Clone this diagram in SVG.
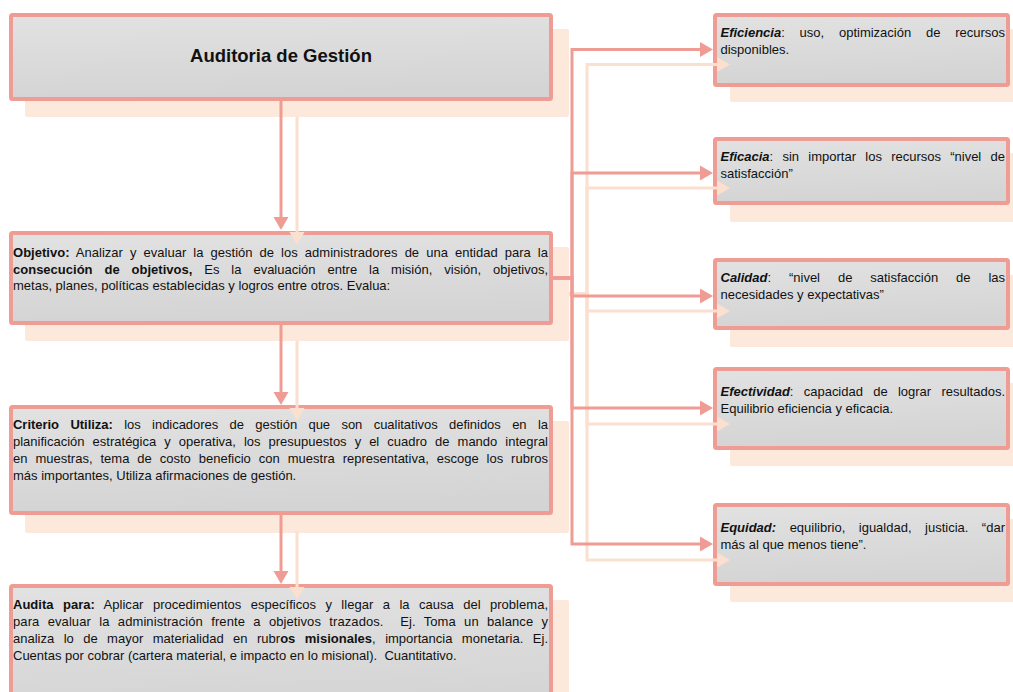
<svg xmlns="http://www.w3.org/2000/svg" width="1013" height="692" viewBox="0 0 1013 692">
<defs>
<linearGradient id="g" x1="0" y1="0" x2="0.15" y2="1">
<stop offset="0" stop-color="#e2e2e2"/>
<stop offset="1" stop-color="#d4d4d4"/>
</linearGradient>
<marker id="ah" markerUnits="userSpaceOnUse" markerWidth="14" markerHeight="16" refX="0" refY="8" orient="auto" viewBox="0 0 14 16"><path d="M0,0.5 L13,8 L0,15.5 z" fill="#ef9c95"/></marker>
<marker id="ahl" markerUnits="userSpaceOnUse" markerWidth="14" markerHeight="16" refX="0" refY="8" orient="auto" viewBox="0 0 14 16"><path d="M0,0.5 L13,8 L0,15.5 z" fill="#fbdfcf"/></marker>
<style>
.box{fill:url(#g);stroke:#ef9c95;stroke-width:4}
.sh{fill:#fde8dc}
.t{font-family:"Liberation Sans",Arial,Helvetica,sans-serif;font-size:13px;fill:#111;white-space:pre}
.title{font-family:"Liberation Sans",Arial,Helvetica,sans-serif;font-size:18.5px;font-weight:bold;fill:#111}
.b{font-weight:bold}
.bi{font-weight:bold;font-style:italic}
.c{fill:none;stroke:#ef9c95;stroke-width:3}
.cl{fill:none;stroke:#fbdfcf;stroke-width:3}
</style>
</defs>
<rect width="1013" height="692" fill="#ffffff"/>

<g id="node-auditoria">
<rect class="sh" x="25" y="29" width="544" height="88" rx="2"/>
<rect class="box" x="11" y="15" width="540" height="84" rx="1.5"/>
<text class="title" x="281" y="62" text-anchor="middle">Auditoria de Gestión</text>
</g>

<g id="node-objetivo">
<rect class="sh" x="25" y="247" width="544" height="94" rx="2"/>
<rect class="box" x="11" y="233" width="540" height="90" rx="1.5"/>
<text class="t" x="13" y="257" textLength="535" lengthAdjust="spacing" word-spacing="3.4"><tspan class="b">Objetivo:</tspan> Analizar y evaluar la gestión de los administradores de una entidad para la</text>
<text class="t" x="13" y="273.5" textLength="535" lengthAdjust="spacing" word-spacing="8.3"><tspan class="b">consecución de objetivos,</tspan> Es la evaluación entre la misión, visión, objetivos,</text>
<text class="t" x="13" y="290">metas, planes, políticas establecidas y logros entre otros. Evalua:</text>
</g>

<g id="node-criterio">
<rect class="sh" x="25" y="421" width="544" height="112" rx="2"/>
<rect class="box" x="11" y="407" width="540" height="106" rx="1.5"/>
<text class="t" x="13" y="428.5" textLength="535" lengthAdjust="spacing" word-spacing="7.8"><tspan class="b">Criterio Utiliza:</tspan> los indicadores de gestión que son cualitativos definidos en la</text>
<text class="t" x="13" y="445.5" textLength="535" lengthAdjust="spacing" word-spacing="4.4">planificación estratégica y operativa, los presupuestos y el cuadro de mando integral</text>
<text class="t" x="13" y="462.5" textLength="535" lengthAdjust="spacing" word-spacing="4.3">en muestras, tema de costo beneficio con muestra representativa, escoge los rubros</text>
<text class="t" x="13" y="479.5">más importantes, Utiliza afirmaciones de gestión.</text>
</g>

<g id="node-audita">
<rect class="sh" x="25" y="600" width="544" height="120" rx="2"/>
<rect class="box" x="11" y="586" width="540" height="130" rx="1.5"/>
<text class="t" x="13" y="608.5" textLength="535" lengthAdjust="spacing" word-spacing="5.8"><tspan class="b">Audita para:</tspan> Aplicar procedimientos específicos y llegar a la causa del problema,</text>
<text class="t" x="13" y="625.5" textLength="535" lengthAdjust="spacing" word-spacing="4.6">para evaluar la administración frente a objetivos trazados.  Ej. Toma un balance y</text>
<text class="t" x="13" y="642.5" textLength="535" lengthAdjust="spacing" word-spacing="5.8">analiza lo de mayor materialidad en rubr<tspan class="b">os misionales</tspan>, importancia monetaria. Ej.</text>
<text class="t" x="13" y="659.5">Cuentas por cobrar (cartera material, e impacto en lo misional).  Cuantitativo.</text>
</g>

<g id="node-eficiencia">
<rect class="sh" x="730" y="29" width="297" height="73" rx="2"/>
<rect class="box" x="715" y="15" width="293" height="70" rx="1.5"/>
<text class="t" x="720.5" y="36.5" textLength="284.5" lengthAdjust="spacing" word-spacing="11.2"><tspan class="bi">Eficiencia</tspan>: uso, optimización de recursos</text>
<text class="t" x="720.5" y="53.5">disponibles.</text>
</g>

<g id="node-eficacia">
<rect class="sh" x="730" y="153" width="297" height="69" rx="2"/>
<rect class="box" x="715" y="139" width="293" height="64" rx="1.5"/>
<text class="t" x="720.5" y="160.5" textLength="284.5" lengthAdjust="spacing" word-spacing="5.7"><tspan class="bi">Eficacia</tspan>: sin importar los recursos “nivel de</text>
<text class="t" x="720.5" y="177.5">satisfacción”</text>
</g>

<g id="node-calidad">
<rect class="sh" x="730" y="275" width="297" height="72" rx="2"/>
<rect class="box" x="715" y="260" width="293" height="68" rx="1.5"/>
<text class="t" x="720.5" y="281.5" textLength="284.5" lengthAdjust="spacing" word-spacing="14.3"><tspan class="bi">Calidad</tspan>: “nivel de satisfacción de las</text>
<text class="t" x="720.5" y="298.5">necesidades y expectativas”</text>
</g>

<g id="node-efectividad">
<rect class="sh" x="730" y="383" width="297" height="83" rx="2"/>
<rect class="box" x="715" y="369" width="293" height="79" rx="1.5"/>
<text class="t" x="720.5" y="395.5" textLength="284.5" lengthAdjust="spacing" word-spacing="6.7"><tspan class="bi">Efectividad</tspan>: capacidad de lograr resultados.</text>
<text class="t" x="720.5" y="412.5">Equilibrio eficiencia y eficacia.</text>
</g>

<g id="node-equidad">
<rect class="sh" x="730" y="519" width="297" height="83" rx="2"/>
<rect class="box" x="715" y="505" width="293" height="79" rx="1.5"/>
<text class="t" x="720.5" y="532" textLength="284.5" lengthAdjust="spacing" word-spacing="9.9"><tspan class="bi">Equidad:</tspan> equilibrio, igualdad, justicia. “dar</text>
<text class="t" x="720.5" y="549">más al que menos tiene”.</text>
</g>

<g id="connectors">
<path class="cl" d="M297,117 V232" marker-end="url(#ahl)"/>
<path class="cl" d="M297,341 V408" marker-end="url(#ahl)"/>
<path class="cl" d="M297,531 V587" marker-end="url(#ahl)"/>
<path class="cl" d="M569,294 H587 V64.5 H717" marker-end="url(#ahl)"/>
<path class="cl" d="M569,294 H587 V188 H717" marker-end="url(#ahl)"/>
<path class="cl" d="M569,294 H587 V311 H717" marker-end="url(#ahl)"/>
<path class="cl" d="M569,294 H587 V424 H717" marker-end="url(#ahl)"/>
<path class="cl" d="M569,294 H587 V560 H717" marker-end="url(#ahl)"/>
<path class="c" d="M281,101 V217" marker-end="url(#ah)"/>
<path class="c" d="M281,325 V392" marker-end="url(#ah)"/>
<path class="c" d="M281,515 V571" marker-end="url(#ah)"/>
<path class="c" d="M553,278 H572 V49.5 H700" marker-end="url(#ah)"/>
<path class="c" d="M553,278 H572 V173 H700" marker-end="url(#ah)"/>
<path class="c" d="M553,278 H572 V296 H700" marker-end="url(#ah)"/>
<path class="c" d="M553,278 H572 V408 H700" marker-end="url(#ah)"/>
<path class="c" d="M553,278 H572 V544 H700" marker-end="url(#ah)"/>
</g>
</svg>
